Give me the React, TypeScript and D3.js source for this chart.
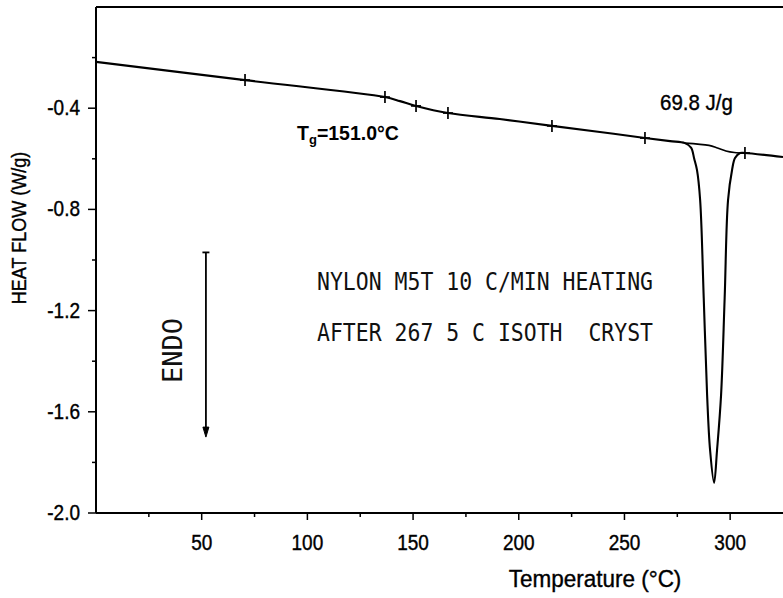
import React from 'react'
import * as d3 from 'd3'

// DSC trace, temperature (°C) vs heat flow (W/g)
const tempC = [0, 70.5, 136.7, 143.8, 151.4, 166.5, 191, 215.7, 238.4, 259.7, 271.6, 278.6, 281.5, 283, 284.3, 285.8, 287.5, 289.1, 290.5, 292.4, 293.8, 295.7, 297.4, 299, 300.9, 302.3, 304.7, 307, 325]
const heatFlow = [-0.217, -0.289, -0.356, -0.372, -0.391, -0.419, -0.443, -0.47, -0.494, -0.518, -0.53, -0.538, -0.556, -0.6, -0.644, -0.763, -1.15, -1.534, -1.751, -1.881, -1.751, -1.534, -1.15, -0.763, -0.644, -0.597, -0.577, -0.577, -0.593]

// integration baseline under the melting peak
const baseTemp = [278.6, 290, 294, 298, 302, 307]
const baseFlow = [-0.538, -0.547, -0.557, -0.569, -0.575, -0.577]

// analysis markers on the trace
const markTemp = [70.5, 136.7, 151.4, 166.5, 215.7, 259.7, 307]
const markFlow = [-0.289, -0.356, -0.391, -0.419, -0.47, -0.518, -0.577]

const xMajor = [50, 100, 150, 200, 250, 300]
const xMinor = [25, 75, 125, 175, 225, 275]
const yMajor = [-0.4, -0.8, -1.2, -1.6, -2.0]
const yMinor = [-0.2, -0.6, -1.0, -1.4, -1.8]

const noteLines = ['NYLON M5T 10 C/MIN HEATING', 'AFTER 267 5 C ISOTH  CRYST']

const W = 783
const H = 598
const sans = '"Liberation Sans", Arial, Helvetica, sans-serif'
const plotter = '"DejaVu Sans Mono", monospace'
// scanned print looks a little heavier than the screen font
const ink = { fill: '#000', stroke: '#000', strokeWidth: 0.35 }

export default function App() {
  const x = d3.scaleLinear().domain([0, 325]).range([96, 783])
  const y = d3.scaleLinear().domain([0, -2.0]).range([7, 513])

  const trace = tempC.map((t, i) => [t, heatFlow[i]] as [number, number])
  const base = baseTemp.map((t, i) => [t, baseFlow[i]] as [number, number])
  const line = d3.line<[number, number]>().x(d => x(d[0])).y(d => y(d[1])).curve(d3.curveCatmullRom.alpha(0.5))

  const arrowX = x(52)
  const arrowTop = y(-0.97)
  const arrowBot = y(-1.70)

  return (
    <div style={{ position: 'fixed', left: 0, top: 0 }}>
      <svg width={W} height={H} style={{ display: 'block', background: '#fff' }}>
        {/* frame */}
        <line x1={x(0)} x2={x(0)} y1={y(0)} y2={y(-2)} stroke="#000" strokeWidth={2} />
        <line x1={x(0)} x2={W} y1={y(0)} y2={y(0)} stroke="#000" strokeWidth={2} />
        <line x1={x(0)} x2={W} y1={y(-2)} y2={y(-2)} stroke="#000" strokeWidth={2} />

        {/* y ticks */}
        {yMajor.map(v => (
          <g key={'ym' + v}>
            <line x1={x(0) - 8} x2={x(0)} y1={y(v)} y2={y(v)} stroke="#000" strokeWidth={1.5} />
            <text transform={`translate(${x(0) - 16},${y(v) + 7}) scale(1,1.12)`} textAnchor="end" fontFamily={sans} fontSize={19} {...ink}>{v.toFixed(1)}</text>
          </g>
        ))}
        {yMinor.map(v => (
          <line key={'yn' + v} x1={x(0) - 4} x2={x(0)} y1={y(v)} y2={y(v)} stroke="#000" strokeWidth={1.5} />
        ))}

        {/* x ticks */}
        {xMajor.map(t => (
          <g key={'xm' + t}>
            <line x1={x(t)} x2={x(t)} y1={y(-2)} y2={y(-2) + 7} stroke="#000" strokeWidth={1.5} />
            <text transform={`translate(${x(t)},${y(-2) + 37}) scale(1,1.12)`} textAnchor="middle" fontFamily={sans} fontSize={19} {...ink}>{t}</text>
          </g>
        ))}
        {xMinor.map(t => (
          <line key={'xn' + t} x1={x(t)} x2={x(t)} y1={y(-2)} y2={y(-2) + 4} stroke="#000" strokeWidth={1.5} />
        ))}

        {/* axis titles */}
        <text transform="translate(595,587) scale(1,1.08)" textAnchor="middle" fontFamily={sans} fontSize={22.5} {...ink}>Temperature (°C)</text>
        <text transform="translate(26,228) rotate(-90) scale(1,1.12)" textAnchor="middle" fontFamily={sans} fontSize={18} {...ink}>HEAT FLOW (W/g)</text>

        {/* data */}
        <path d={line(base) ?? ''} fill="none" stroke="#000" strokeWidth={1.6} />
        <path d={line(trace) ?? ''} fill="none" stroke="#000" strokeWidth={2.1} />
        {markTemp.map((t, i) => (
          <g key={'mk' + t} stroke="#000" strokeWidth={1.7}>
            <line x1={x(t)} x2={x(t)} y1={y(markFlow[i]) - 6} y2={y(markFlow[i]) + 6} />
            <line x1={x(t) - 5} x2={x(t) + 5} y1={y(markFlow[i])} y2={y(markFlow[i])} />
          </g>
        ))}

        {/* annotations */}
        <text x={297} y={140} fontFamily={sans} fontSize={19.5} fontWeight="bold">
          T<tspan fontSize={13} dy={4}>g</tspan><tspan dy={-4}>=151.0°C</tspan>
        </text>
        <text transform="translate(660,110) scale(1,1.1)" fontFamily={sans} fontSize={20.5} {...ink}>69.8 J/g</text>

        {noteLines.map((s, i) => (
          <text key={s} x={317} y={290 + i * 51} fontFamily={plotter} fontSize={24} textLength={336}
            lengthAdjust="spacingAndGlyphs" style={{ whiteSpace: 'pre' }} fill="#111">{s}</text>
        ))}

        <text transform="translate(182,383) rotate(-90)" fontFamily={plotter} fontSize={26} textLength={65}
          lengthAdjust="spacingAndGlyphs" fill="#111">ENDO</text>

        {/* endo arrow */}
        <line x1={arrowX} x2={arrowX} y1={arrowTop} y2={arrowBot - 6} stroke="#000" strokeWidth={1.8} />
        <line x1={arrowX - 3.5} x2={arrowX + 3.5} y1={arrowTop} y2={arrowTop} stroke="#000" strokeWidth={1.8} />
        <path d={`M${arrowX - 3},${arrowBot - 10} L${arrowX + 3},${arrowBot - 10} L${arrowX},${arrowBot} Z`} fill="#000" stroke="#000" strokeWidth={1} />
      </svg>
    </div>
  )
}
